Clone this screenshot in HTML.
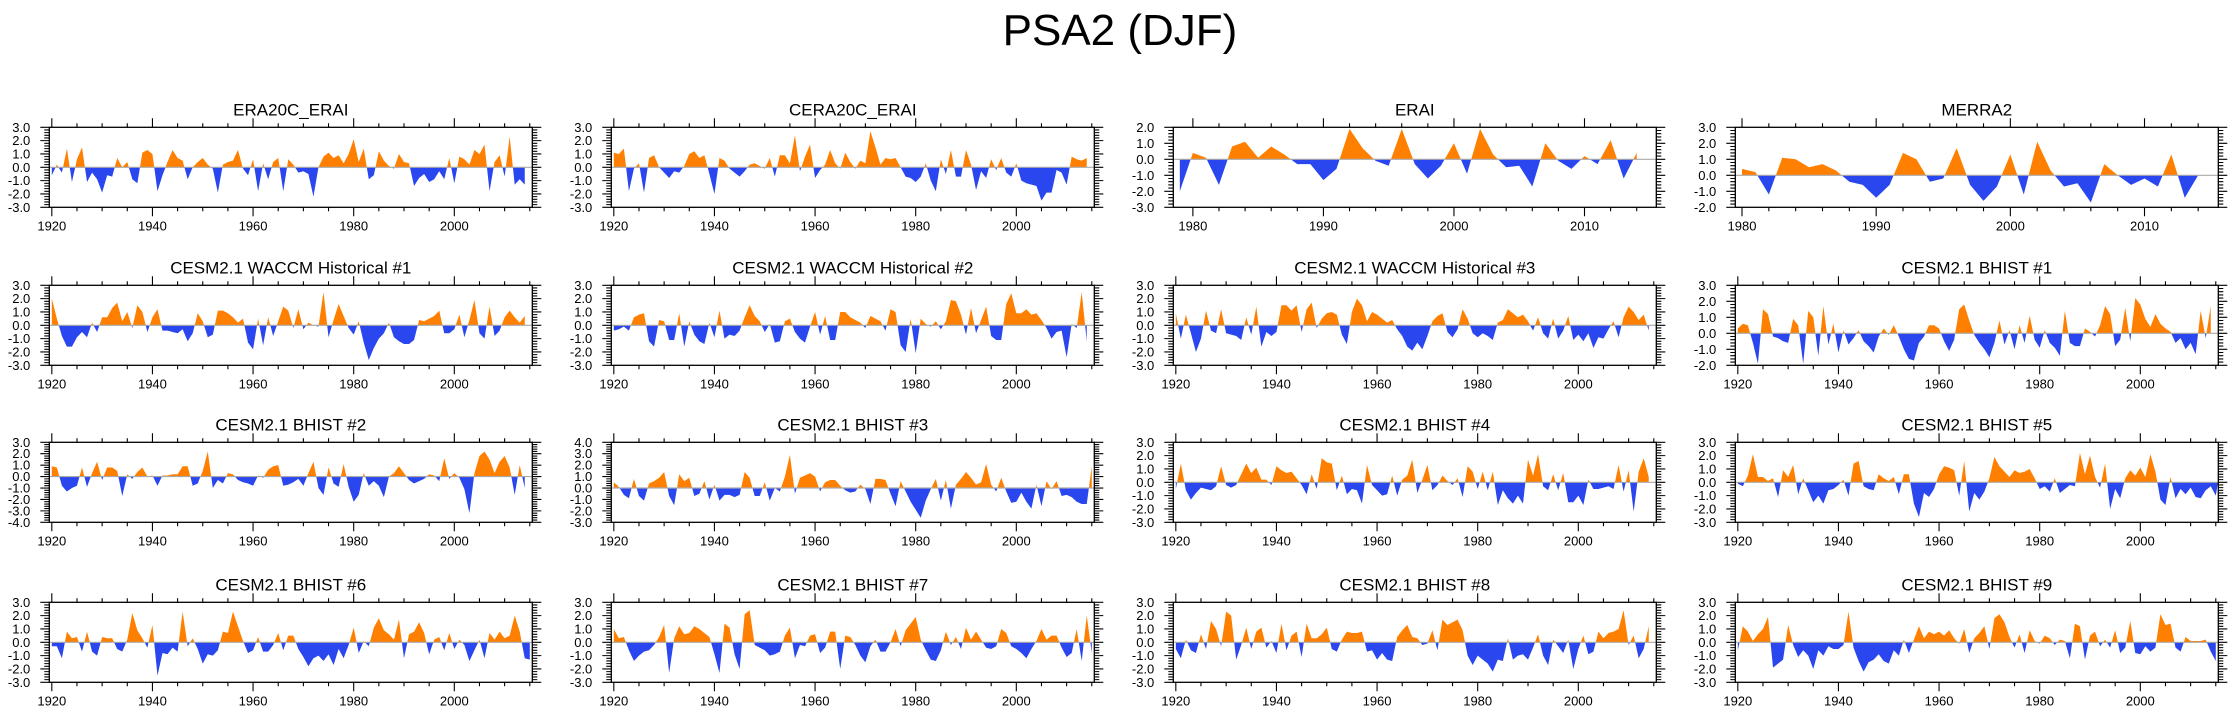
<!DOCTYPE html>
<html><head><meta charset="utf-8"><style>
html,body{margin:0;padding:0;background:#fff;}
svg{display:block;font-family:"Liberation Sans",sans-serif;}
</style></head><body>
<svg id="fig" width="2238" height="719" viewBox="0 0 2238 719" xmlns="http://www.w3.org/2000/svg">
<rect width="2238" height="719" fill="#fff"/>
<text x="1120" y="45" font-size="44" text-anchor="middle">PSA2 (DJF)</text>
</svg>
<script>
const titles = ["ERA20C_ERAI","CERA20C_ERAI","ERAI","MERRA2","CESM2.1 WACCM Historical #1","CESM2.1 WACCM Historical #2","CESM2.1 WACCM Historical #3","CESM2.1 BHIST #1","CESM2.1 BHIST #2","CESM2.1 BHIST #3","CESM2.1 BHIST #4","CESM2.1 BHIST #5","CESM2.1 BHIST #6","CESM2.1 BHIST #7","CESM2.1 BHIST #8","CESM2.1 BHIST #9"];
const startYears = [1920,1920,1979,1980,1920,1920,1920,1920,1920,1920,1920,1920,1920,1920,1920,1920];
const yMins = [-3,-3,-3,-2,-3,-3,-3,-2,-4,-3,-3,-3,-3,-3,-3,-3];
const yMaxs = [3,3,2,3,3,3,3,3,3,4,3,3,3,3,3,3];
const era20c = [-0.6,0.2,-0.4,1.4,-1.1,0.6,1.5,-1.1,-0.4,-0.9,-1.9,-0.6,-0.7,0.7,0,0.4,-0.9,-1.2,1.1,1.3,1.0,-1.8,-0.6,0.4,1.3,0.7,0.5,-0.9,0,0.4,0.7,0.2,-0.1,-1.9,0.2,0.4,0.5,1.3,-0.1,-0.6,0.6,-1.8,0.3,-0.9,0.4,0.7,-1.8,0.6,0.2,-0.4,-0.3,-0.5,-2.2,0,0.8,1.1,0.7,0.9,0.3,1.0,2.1,0.4,1.4,-0.9,-0.6,1.2,0.5,0.1,-0.1,1.0,0.4,0.3,-1.4,-0.8,-0.5,-1.1,-0.9,-0.3,-0.9,0.7,-1.2,0.8,0.6,0.2,1.3,1.0,1.7,-1.8,0.4,0.9,-0.7,2.3,-1.3,-0.9,-1.3];
const cera20c = [1.1,1.0,1.4,-1.8,-0.1,0.3,-1.9,0.7,0.9,0,-0.4,-0.8,-0.3,-0.4,0.1,1.0,1.2,0.7,0.9,-0.5,-2.0,0.7,0.5,-0.1,-0.4,-0.7,-0.3,0.2,0.3,0.1,-0.1,0.7,-0.7,0.9,0.9,0.3,2.4,-0.3,0.8,1.7,-0.8,-0.2,0.2,1.3,0.3,-0.1,1.1,0.4,-0.1,0.5,0.3,2.7,1.5,0.2,0.7,0.6,0.7,0,-0.7,-0.8,-1.1,-0.7,0.3,-1.0,-1.8,0.6,-0.5,1.3,-0.7,-0.7,1.3,0.2,-1.7,-0.3,-0.8,0.6,-0.2,0.7,-0.4,-0.7,0.3,-1.0,-1.2,-1.3,-1.4,-2.5,-1.9,-1.9,-0.2,-0.4,-1.3,0.8,0.6,0.5,0.7];
const erai = [-2.0,0.4,0.1,-1.6,0.8,1.1,0.1,0.8,0.3,-0.3,-0.3,-1.3,-0.6,1.9,0.7,-0.1,-0.4,1.9,-0.3,-1.2,-0.4,1.0,-0.9,1.9,0.3,-0.5,-0.4,-1.7,1.0,-0.1,-0.6,0.2,-0.3,1.2,-1.2,0.4];
const merra2 = [0.4,0.2,-1.2,1.1,1.0,0.5,0.7,0.3,-0.4,-0.6,-1.4,-0.6,1.4,1.0,-0.4,-0.2,1.7,-0.6,-1.6,-0.7,1.3,-1.2,2.1,0.3,-0.7,-0.5,-1.7,0.7,0.0,-0.6,-0.2,-0.7,1.3,-1.4,0];
const waccm1 = [2.0,0.5,-0.8,-1.6,-1.6,-0.9,-0.5,-0.9,0.2,-0.5,0.6,0.6,1.3,1.7,0.3,1.0,-0.2,1.5,1.0,-0.5,0.6,1.2,-0.4,-0.4,-0.5,-0.6,-0.3,-1.2,-0.6,0.9,0.3,-0.9,-0.7,1.1,1.1,0.9,0.6,0.2,0.5,-1.3,-1.8,0.5,-1.5,0.6,-0.8,0.3,1.4,1.1,-0.2,1.2,-0.3,0.2,0,-0.1,2.5,-0.9,0.4,1.6,0.7,-0.2,-0.7,0.3,-1.3,-2.6,-1.7,-1.0,-0.6,0.2,-0.9,-1.2,-1.4,-1.4,-1.1,0.4,0.3,0.5,0.7,1.1,-0.6,-0.6,-0.3,0.8,-0.9,0.4,1.9,-0.6,-1.0,1.4,-0.8,-0.4,0.6,1.1,0.6,0.2,0.7];
const waccm2 = [-0.4,-0.3,-0.1,-0.4,0.6,0.8,0.9,-1.2,-1.6,0.4,0.3,-1.1,-1.1,0.9,-1.6,0.3,-0.7,-1.2,-1.4,0.2,-0.9,1.1,-1.0,-0.7,-0.8,-0.4,0.6,1.5,0.7,0.3,-0.5,0.1,-1.3,-1.2,0.3,0.5,-0.5,-1.0,-1.3,-0.1,1.0,-0.7,0.7,-1.1,-1.1,1.0,1.0,0.6,0.4,0.2,-0.2,0.7,0.5,0.3,-0.4,1.2,1.0,-1.5,-2.0,0.5,-2.1,0.5,0.1,-0.1,0.3,-0.3,0.3,1.9,1.8,0.8,-0.7,1.3,-0.6,0.4,1.4,-0.8,-1.1,-1.1,1.6,2.4,0.9,0.9,1.2,0.8,0.9,0.4,-0.2,-1.0,-0.5,-0.4,-2.4,0.1,-0.2,2.5,-1.2];
const waccm3 = [0.9,-1.0,0.8,-0.6,-2.0,-1.0,1.1,-0.4,-0.6,1.2,-0.6,-0.7,-0.8,-1.1,0.6,-0.7,1.4,-1.6,-0.5,-0.8,-0.5,1.5,1.5,1.1,1.5,-0.5,1.2,1.7,-0.2,0.5,0.9,1.0,0.8,-0.7,-1.4,1.0,2.0,1.5,0.3,1.0,0.8,0.5,0.2,0.4,-0.3,-0.8,-1.6,-1.9,-1.3,-1.8,-0.8,0.3,0.7,0.9,-0.5,-0.9,-0.3,1.2,0.5,-0.6,-0.9,-0.6,-0.8,-1.1,0.2,0.4,1.2,0.9,0.6,0.8,0.3,-0.4,0.6,-0.6,-1.0,0.5,-1.0,-0.4,0.7,-1.1,-0.7,-1.2,-0.6,-1.7,-0.9,-1.0,-0.3,0.3,-0.9,0.6,1.4,1.0,0.4,0.8,-0.4];
const bhist1 = [0.3,0.6,0.5,-0.6,-1.9,1.5,1.2,-0.2,-0.3,-0.5,-0.6,0.9,0.5,-1.9,1.4,1.0,-1.4,1.7,-0.7,0.6,-1.2,0.2,-0.7,-0.3,0.2,-0.5,-0.8,-1.2,-0.2,0.3,-0.1,0.5,-0.2,-1.0,-1.6,-1.7,-0.6,-0.2,0.5,0.5,0.3,-0.5,-1.1,-0.4,1.5,1.8,0.8,-0.1,-0.6,-1.0,-1.5,-0.6,0.8,-0.7,0.2,-1.0,0.5,-0.6,1.1,-0.4,-0.9,0.2,-0.6,-0.9,-1.4,1.4,-0.6,-0.8,-0.8,0.3,0.1,-0.2,0.5,1.7,1.2,-0.8,-0.4,1.6,-0.5,2.2,1.8,0.9,0.4,1.2,0.6,0.3,0.1,-0.6,-0.3,-1.0,-0.6,-1.3,1.4,-0.3,1.7];
const bhist2 = [0.9,0.8,-0.8,-1.3,-1.0,-0.8,0.8,-0.9,0.3,1.3,-0.3,0.8,0.8,0.5,-1.7,0.2,-0.2,0.4,0.8,0,0.1,-0.8,0.1,0.1,0.2,0.2,0.9,0.9,-0.8,-0.6,0.5,2.2,-1.0,-0.3,-0.6,0.3,0.2,-0.3,-0.5,-0.6,-0.8,0.1,-0.1,0.6,0.9,1.0,-0.8,-0.7,-0.5,-0.2,-0.8,0.3,1.3,-1.0,-1.6,0.8,-0.6,-0.9,1.1,-0.9,-2.2,-1.6,0.3,-0.8,-0.4,-0.8,-1.8,0.0,0.3,0.9,0.3,-0.3,-0.6,-0.4,-0.2,0.2,0.1,-0.4,1.6,-0.2,0.3,-0.1,-1.1,-3.2,0.3,1.8,2.2,1.5,0.3,1.3,1.8,0.8,-1.6,1.0,-1.0];
const bhist3 = [0.5,0.1,-0.6,-0.9,0.8,-0.7,-1.1,0.4,0.6,0.9,1.4,-0.7,-1.5,1.2,0.6,0.9,-0.7,-0.5,0.6,-1.0,0.3,-1.1,-0.6,-0.6,-0.8,-0.6,1.4,0.9,-0.7,-0.7,0.5,-1.1,0,-0.3,1.0,2.9,-0.5,0.9,1.1,1.3,1.0,-0.3,0.5,0.7,0.7,0.2,-0.2,-0.4,-0.3,0.3,-0.1,-1.4,0.8,0.8,0.7,-0.5,-1.6,0.6,-0.3,-1.2,-1.9,-2.6,-1.1,-0.1,0.8,-1.1,0.7,-1.8,0.3,0.8,1.4,0.9,0.3,0.5,2.1,0.3,-0.3,0.9,-0.3,-1.3,-1.2,-0.4,-1.2,-1.8,0.3,-1.6,0.6,-0.1,0.6,-0.7,-0.6,-0.8,-1.2,-1.4,-1.4,1.9];
const bhist4 = [-0.5,1.4,-0.6,-1.3,-0.8,-0.4,-0.5,-0.6,-0.3,1.2,-0.2,-0.4,-0.2,0.6,1.4,0.7,1.1,0.2,0.2,-0.2,1.2,0.9,0.7,0.8,0.3,-0.2,-0.9,0.6,-0.5,1.8,1.5,1.4,-0.6,0.5,-0.9,-0.5,-0.6,-1.6,1.3,-0.2,-0.6,-1.0,-0.9,0.5,-1.0,0.2,0.5,1.7,-0.8,0.2,1.3,-0.6,-0.2,0.5,0.1,-0.2,0.3,-1.1,1.2,0.8,-0.5,0.8,-0.6,0.8,-1.7,-0.6,-1.2,-1.6,-1.0,-1.6,1.7,0.5,2.1,-0.3,-0.6,0.6,-0.6,0.7,-1.5,-1.5,-1.0,-1.7,0.2,-0.5,-0.5,-0.4,-0.3,-0.5,1.3,-0.7,0.9,-2.2,0.8,1.8,0.4];
const bhist5 = [-0.1,-0.3,0.5,2.1,0.4,0.4,0.1,0.3,-1.1,0.9,0.4,1.3,-0.9,0.3,-0.6,-1.5,-1.0,-1.6,-0.6,-0.5,-0.2,0.2,-1.0,1.4,1.6,-0.3,-0.5,-0.6,0.6,0.3,0.1,0.4,-0.9,0.6,0.6,-1.6,-2.6,-0.8,-1.1,-0.5,0.6,1.2,1.1,0.9,-1.0,1.6,-2.2,-0.8,-1.3,-0.7,0.3,1.9,1.2,0.8,0.4,0.9,0.7,0.8,1.0,0.3,-0.5,-0.3,-0.7,0.3,-0.8,-0.5,-0.2,-0.3,2.2,0.6,2.0,0.4,-0.4,1.4,-2.0,-0.5,-1.2,0.3,0.9,0.5,1.1,0.4,2.1,0.8,-1.3,-1.7,0.4,-1.2,-0.5,-0.9,-0.4,-1.1,-1.2,-0.6,-0.3,-1.0,1.2];
const bhist6 = [-0.3,-0.3,-1.2,0.8,0.3,0.4,-0.7,0.8,-0.7,-1.0,0.4,0.3,0.3,-0.5,-0.7,0.2,2.2,0.9,0.3,-0.4,1.3,-2.5,-0.8,-0.9,-0.4,-0.7,2.3,-0.3,0.3,-0.5,-1.6,-0.9,-1.0,-0.6,0.8,0.7,2.3,1.2,0.1,-0.8,-0.6,0.4,-0.7,-0.7,-0.2,0.7,-0.6,0.5,0.5,-0.5,-1.1,-1.8,-1.2,-1.0,-1.4,-0.9,-1.7,-0.5,-1.2,-0.2,1.1,-0.8,0.1,-0.3,1.1,1.8,0.9,0.6,0.2,1.7,-1.2,0.6,0.8,1.5,0.7,-0.9,0.2,0.4,-0.6,0.7,-0.5,0.2,-0.2,-1.4,-0.6,0.2,-1.2,0.7,0.2,0.8,0.3,0.5,2.0,0.8,-1.2,-1.3];
const bhist7 = [1.0,0.3,0.4,-0.6,-1.4,-1.0,-0.7,-0.6,-0.2,0.4,1.3,-2.3,0.3,1.2,0.6,0.7,1.2,1.0,0.7,0.4,-0.9,-2.3,1.4,1.1,-0.9,-2.0,2.1,2.4,-0.2,-0.4,-0.6,-1.0,-0.9,-0.7,0.5,1.1,-1.2,-0.2,-0.3,0.5,0.6,-0.8,-0.4,0.8,0.8,-2.0,0.5,0.4,-0.2,-1.0,-1.5,-0.3,0.2,-0.7,-0.7,0,1.0,-0.3,0.9,1.4,1.9,0.2,-0.6,-1.3,-1.4,-0.6,0.8,-0.2,0.4,-0.5,1.1,0.2,0.8,0.2,-0.4,-0.5,-0.3,1.0,0.7,-0.3,-0.5,-0.8,-1.2,-0.5,0.1,1.0,0.2,0.5,0.5,-0.4,-1.1,-0.8,1.0,-1.4,2.0,-0.8];
const bhist8 = [-0.5,-1.2,0.2,-0.6,-0.8,0.6,-0.5,1.6,1.0,-0.3,2.3,2.0,-1.3,-0.2,1.1,-0.5,0.8,1.1,-0.4,0.1,-0.8,1.4,-0.6,0.5,0.8,-1.1,1.4,0.3,0.3,0.6,1.1,-0.5,-0.7,0.2,0.8,0.7,0.7,0.8,-0.7,-0.6,-1.3,-0.8,-1.3,-1.4,0.4,0.9,1.3,0.4,0.3,-0.2,-0.1,0.9,-0.6,1.7,1.3,1.5,1.7,0.9,-1.0,-1.7,-1.0,-1.3,-1.6,-2.2,-1.3,-1.4,0.3,-1.3,-1.0,-0.9,-1.3,-0.4,0.6,-1.0,-1.7,0.2,-0.3,-0.8,0.2,-2.0,-0.5,0.5,-0.9,-0.7,0.8,0.3,0.7,0.8,1.0,2.4,-0.2,0.5,-1.2,-0.5,1.2];
const bhist9 = [-0.6,1.2,0.8,0.1,0.6,1.0,1.9,-1.9,-1.6,-1.3,1.3,-0.2,-1.1,-0.6,-1.0,-2.0,-0.6,-1.0,-0.3,-0.5,-0.5,-0.2,2.3,-0.4,-1.4,-2.2,-1.5,-1.3,-0.9,-1.4,-1.6,-0.6,-1.0,0.2,-0.8,0.2,1.2,0.3,0.8,0.6,0.8,0.5,0.9,0.3,-0.1,1.0,-0.8,0.3,0.7,1.2,-0.5,1.8,2.1,1.5,0.4,-0.4,0.6,-0.8,0.9,0.1,-0.1,0.5,0.3,-0.2,0.2,0.1,-1.2,1.4,1.2,-1.3,0.5,0.8,-0.3,0.2,-0.4,0.9,-0.8,-0.4,1.6,-0.8,-0.9,-0.3,-0.7,-0.4,2.1,1.3,1.4,-0.4,-0.7,0.4,0.1,0.1,0.1,0.2,-0.7,-1.4];
const series = [era20c,cera20c,erai,merra2,waccm1,waccm2,waccm3,bhist1,bhist2,bhist3,bhist4,bhist5,bhist6,bhist7,bhist8,bhist9];

const NS = "http://www.w3.org/2000/svg";
const svg = document.getElementById('fig');
function mk(tag, attrs, parent){ const e=document.createElementNS(NS,tag); for(const k in attrs) e.setAttribute(k,attrs[k]); (parent||svg).appendChild(e); return e; }
const colX = [49.3, 611.3, 1173.3, 1735.3];
const rowY = [127.3, 285.3, 442.3, 602.3];
const W = 483, H = 80;

series.forEach((vals, p) => {
  const c = p % 4, r = Math.floor(p / 4);
  const L = colX[c], T = rowY[r], R = L + W, B = T + H;
  const short = startYears[p] > 1950;
  const x0 = short ? (startYears[p] === 1979 ? 1978.5 : 1979.5) : 1919.5;
  const x1 = 2015.5;
  const ymin = yMins[p], ymax = yMaxs[p];
  const sx = y => L + (y - x0) / (x1 - x0) * W;
  const sy = v => B - (v - ymin) / (ymax - ymin) * H;
  const g = mk('g', {});
  
  
  const t = mk('text', {x: (L+R)/2, y: T - 12, 'font-size': 17, 'text-anchor': 'middle'}, g);
  
  
  t.textContent = titles[p];
  // area polygon
  const y0 = sy(0);
  let pts = sx(startYears[p]).toFixed(2) + ',' + y0.toFixed(2) + ' ';
  vals.forEach((v, i) => { pts += sx(startYears[p] + i).toFixed(2) + ',' + sy(v).toFixed(2) + ' '; });
  pts += sx(startYears[p] + vals.length - 1).toFixed(2) + ',' + y0.toFixed(2);
  const idA = 'ca' + p, idB = 'cb' + p;
  const defs = mk('defs', {}, g);
  const cpA = mk('clipPath', {id: idA}, defs); mk('rect', {x: L, y: T, width: W, height: y0 - T}, cpA);
  const cpB = mk('clipPath', {id: idB}, defs); mk('rect', {x: L, y: y0, width: W, height: B - y0}, cpB);
  const pa = mk('polygon', {points: pts, fill: '#ff8000', 'clip-path': 'url(#' + idA + ')'}, g);
  
  
  const pb = mk('polygon', {points: pts, fill: '#2a46ee', 'clip-path': 'url(#' + idB + ')'}, g);
  
  
  const zl = mk('line', {x1: L, x2: R, y1: y0, y2: y0, stroke: '#aaa', 'stroke-width': 1.2}, g);
  
  
  const fr = mk('rect', {x: L, y: T, width: W, height: H, fill: 'none', stroke: '#000', 'stroke-width': 1.3}, g);
  
  
  // y ticks
  let tk = '';
  for (let v = ymin; v <= ymax + 1e-6; v += 0.2) {
    const yy = sy(v), major = Math.abs(v - Math.round(v)) < 1e-6;
    const len = major ? 9 : 5;
    tk += `M${L},${yy}h${-len}M${R},${yy}h${len}`;
    if (major) {
      const lb = mk('text', {x: L - 19, y: yy + 4.5, 'font-size': 13, 'text-anchor': 'end'}, g);
      
      
      lb.textContent = Math.round(v).toFixed(1);
    }
  }
  // x ticks
  const majStep = short ? 10 : 20, minStep = short ? 2 : 5;
  const firstMin = Math.ceil(x0 / minStep) * minStep;
  for (let yr = firstMin; yr <= x1; yr += minStep) {
    const xx = sx(yr), major = yr % majStep === 0;
    const len = major ? 9 : 4;
    tk += `M${xx},${B}v${len}M${xx},${T}v${-len}`;
    if (major) {
      const lb = mk('text', {x: xx, y: B + 23, 'font-size': 13, 'text-anchor': 'middle'}, g);
      
      
      lb.textContent = yr;
    }
  }
  const tp = mk('path', {d: tk, stroke: '#000', 'stroke-width': 1.1, fill: 'none'}, g);
  
  
});
</script>
</body></html>
